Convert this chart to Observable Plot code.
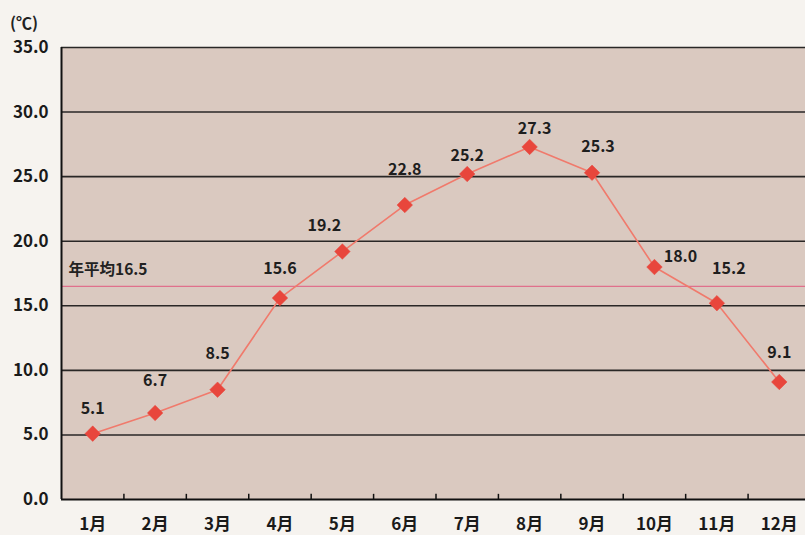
<!DOCTYPE html>
<html>
<head>
<meta charset="utf-8">
<script src="https://cdn.jsdelivr.net/npm/d3@7"></script>
<script src="https://cdn.jsdelivr.net/npm/@observablehq/plot@0.6"></script>
<style>
  html, body { margin: 0; padding: 0; background: #f6f3ef; overflow: hidden; }
  #chart { position: relative; width: 805px; height: 535px; }
  #unit { position: absolute; left: 10px; top: 10px; font: bold 16px "Noto Sans CJK JP", sans-serif; color: #222; }
</style>
</head>
<body>
<div id="chart"><div id="unit">(℃)</div></div>
<script>
const months = ["1月","2月","3月","4月","5月","6月","7月","8月","9月","10月","11月","12月"];
const temps = [5.1, 6.7, 8.5, 15.6, 19.2, 22.8, 25.2, 27.3, 25.3, 18.0, 15.2, 9.1];
const annualMean = 16.5;
const yTicks = [0, 5, 10, 15, 20, 25, 30, 35];

const data = months.map((m, i) => ({month: m, idx: i + 1, t: temps[i]}));
// label nudges in px (styling only)
const nudge = {"1月":[0,-25], "2月":[0,-32], "3月":[0,-36], "4月":[0,-29], "5月":[-18,-26], "6月":[0,-35],
  "7月":[0,-18], "8月":[5,-18], "9月":[6,-26], "10月":[26,-10], "11月":[12,-34], "12月":[0,-29]};
const font = '"Noto Sans CJK JP", "Noto Sans", sans-serif';

const chart = Plot.plot({
  width: 805,
  height: 535,
  marginLeft: 61,
  marginTop: 47,
  marginBottom: 36,
  marginRight: -5,
  style: {background: "transparent", fontFamily: font},
  x: {domain: [0.5, 12.5], axis: null},
  y: {domain: [0, 35], axis: null},
  marks: [
    Plot.rect([0], {x1: 0.5, x2: 12.5, y1: 0, y2: 35, fill: "#dac9c0"}),
    Plot.ruleY(yTicks.filter(d => d > 0), {stroke: "#151515", strokeWidth: 1.6, strokeOpacity: 0.9}),
    Plot.ruleY([annualMean], {stroke: "#e0708c", strokeWidth: 1.3}),
    Plot.ruleY([0], {stroke: "#111", strokeWidth: 2}),
    Plot.ruleX([0.5], {stroke: "#111", strokeWidth: 2}),
    Plot.ruleX(d3.range(1.5, 12, 1), {y1: 0, y2: 0.4, stroke: "#111", strokeWidth: 1.5}),
    Plot.text(yTicks, {x: 0.5, y: d => d, text: d => d.toFixed(1), dx: -13, textAnchor: "end", fontSize: 17, fontWeight: "bold", fill: "#1a1a1a"}),
    Plot.text(data, {x: "idx", y: 0, text: "month", dy: 25, fontSize: 17, fontWeight: "bold", fill: "#1a1a1a"}),
    Plot.text([annualMean], {x: 0.5, y: d => d, text: d => "年平均" + d.toFixed(1), dx: 7, dy: -16, textAnchor: "start", fontSize: 15.5, fontWeight: "bold", fill: "#222"}),
    Plot.line(data, {x: "idx", y: "t", stroke: "#f07a6c", strokeWidth: 1.6}),
    Plot.dot(data, {x: "idx", y: "t", symbol: "diamond2", r: 7, fill: "#e8463c", stroke: "#e8463c", strokeWidth: 0.5}),
    Plot.text(data, {x: "idx", y: "t", text: d => d.t.toFixed(1), fontSize: 16, fontWeight: "bold", fill: "#1e1e1e"}),
  ]
});
// apply per-label nudges
const labels = chart.querySelectorAll("g[aria-label='text']");
const valueLabels = labels[labels.length - 1];
valueLabels.querySelectorAll("text").forEach((el, i) => {
  const n = nudge[months[i]] || [0, -27];
  el.setAttribute("dx", n[0]);
  el.setAttribute("dy", n[1]);
});
document.getElementById("chart").appendChild(chart);
chart.style.position = "absolute";
chart.style.left = "0";
chart.style.top = "0";
</script>
</body>
</html>
